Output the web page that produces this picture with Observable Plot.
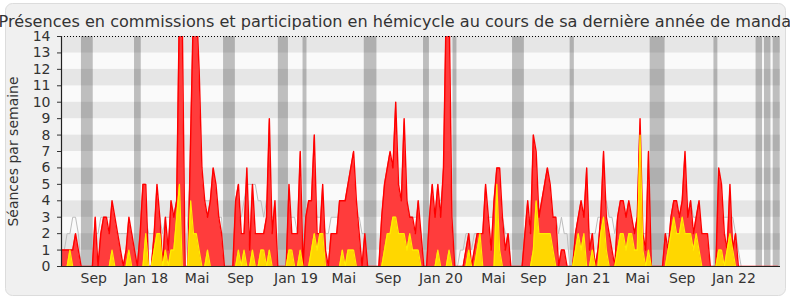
<!DOCTYPE html>
<html><head><meta charset="utf-8">
<script src="https://cdn.jsdelivr.net/npm/d3@7"></script>
<script src="https://cdn.jsdelivr.net/npm/@observablehq/plot@0.6"></script>
<style>
html,body{margin:0;padding:0;background:#fff;}
#chart svg{display:block;}
</style></head><body><div id="chart"></div>
<script>
const title = "Présences en commissions et participation en hémicycle au cours de sa dernière année de mandat";
const yLabel = "Séances par semaine";

// weekly values, week 0 = mid-June 2017
const hemicycle = [
1,1,1,1,1,2,1,0,0,0,
0,0,3,0,2,3,3,2,4,3,
2,1,0,1,3,2,1,0,2,5,
5,0,0,2,5,3,0,3,1,4,
3,4,16,15,0,0,8,16,16,12,
6,4,3,4,6,5,3,2,0,0,
0,0,4,5,2,2,6,1,5,2,
2,2,2,3,9,2,4,0,0,0,
0,5,2,2,2,7,0,3,4,4,
8,2,2,5,1,0,2,2,2,4,
4,4,5,6,7,4,2,0,2,0,
0,0,0,0,3,5,6,7,6,10,
5,4,9,4,3,3,2,4,2,0,
0,3,5,3,5,3,6,16,16,3,
0,0,0,0,1,2,0,1,2,2,
2,5,3,1,4,6,6,3,1,2,
0,0,0,0,0,2,4,2,8,7,
3,4,5,6,5,3,3,0,1,1,
0,0,0,2,3,4,3,6,1,2,
0,1,3,7,3,2,1,0,3,4,
4,3,4,3,2,3,9,2,1,7,
0,0,0,0,0,2,1,3,4,4,
3,4,7,3,4,2,3,4,2,2,
2,0,0,0,6,5,2,1,5,1,
2,0,0,0,0,0,0,0,0,0,
0,0,0,0,0,0
];
const commissions = [
0,0,0,1,0,0,0,0,0,0,
0,0,0,0,0,0,0,0,1,0,
0,0,0,0,1,0,0,0,0,0,
2,0,0,1,2,2,0,1,0,1,
1,3,5,0,0,0,4,2,2,1,
0,0,1,0,0,0,0,0,0,0,
0,0,0,1,0,1,0,0,1,0,
0,1,1,0,1,0,0,0,0,0,
0,1,1,0,0,1,0,0,0,1,
2,1,2,2,0,0,0,0,0,0,
1,0,1,1,1,0,0,0,0,0,
0,0,0,0,0,1,2,2,3,3,
2,2,2,1,2,1,1,1,0,0,
0,0,0,0,1,0,0,0,1,0,
0,0,0,0,0,1,0,0,1,2,
0,0,0,0,0,5,1,0,0,0,
0,0,0,0,0,0,0,0,1,4,
2,2,2,2,2,1,0,0,0,0,
0,0,0,1,2,1,2,0,0,1,
0,0,2,3,1,0,0,0,1,2,
2,1,2,2,1,1,8,1,0,1,
0,0,0,0,0,0,1,2,3,2,
2,3,2,2,2,1,2,1,0,0,
0,0,0,0,1,1,0,1,2,1,
0,0,0,0,0,0,0,0,0,0,
0,0,0,0,0,0
];
const medianAll = [
0,1,2,2,3,3,2,0,0,0,
0,0,2,2,3,3,3,3,3,2,
2,2,2,2,2,2,0,0,2,3,
3,2,2,2,3,3,2,3,3,3,
3,4,6,6,0,3,6,6,6,5,
5,4,4,4,5,4,3,3,0,0,
0,0,2,3,3,4,5,5,5,5,
4,4,3,4,4,3,3,0,0,0,
0,3,3,3,2,3,0,2,3,3,
4,3,3,3,2,2,3,3,3,3,
3,3,4,4,4,3,3,2,2,0,
0,0,0,0,2,3,3,4,4,5,
4,4,5,4,3,3,3,3,2,0,
0,3,3,3,4,4,5,6,6,3,
0,0,1,1,2,2,1,2,2,2,
2,3,3,3,3,4,3,3,2,2,
0,0,0,0,0,2,3,3,3,3,
3,3,3,3,3,3,3,2,3,2,
2,0,0,2,3,3,3,3,2,2,
2,3,3,3,4,3,3,2,3,3,
3,3,3,3,2,3,3,2,2,2,
0,0,0,0,0,2,2,2,3,3,
3,3,4,3,4,3,3,3,2,2,
1,0,0,0,3,3,3,3,3,3,
2,1,0,0,0,0,0,0,0,0,
0,0,0,0,0,0
];

// parliamentary holidays (in weeks)
const vacStart = [7.1, 26.0, 57.7, 77.2, 86.0, 107.8, 128.9, 139.4, 160.6, 181.1, 209.6, 232.3, 247.3, 250.3, 253.4];
const vacEnd   = [11.3, 28.4, 61.9, 80.8, 87.4, 112.3, 131.0, 140.8, 164.8, 182.6, 214.9, 233.7, 249.6, 252.6, 255.9];

const tickWeeks  = [11.5, 30.2, 48.3, 63.7, 83.5, 100.5, 116.3, 135.1, 153.8, 168.0, 187.6, 205.1, 221.0, 239.4];
const tickLabels = ["Sep","Jan 18","Mai","Sep","Jan 19","Mai","Sep","Jan 20","Mai","Sep","Jan 21","Mai","Sep","Jan 22"];
const yTicks = [0,1,2,3,4,5,6,7,8,9,10,11,12,13,14];

const data = hemicycle.map((v, i) => ({w: i, hem: v, com: commissions[i], med: medianAll[i]}));
const vac = vacStart.map((s, i) => ({x1: s, x2: vacEnd[i]}));
const bands = yTicks.slice(0, -1).map(v => ({y1: v, y2: v + 1, odd: v % 2 === 1}));
const labelMap = new Map(tickWeeks.map((t, i) => [t, tickLabels[i]]));

const chart = Plot.plot({
  width: 790, height: 300,
  marginLeft: 61, marginRight: 10, marginTop: 36, marginBottom: 34,
  style: {fontFamily: "DejaVu Sans", color: "#333", background: "#fff", overflow: "hidden"},
  x: {domain: [0, 256], axis: null},
  y: {domain: [0, 14], axis: null},
  marks: [
    Plot.frame({insetLeft: -56, insetTop: -33, insetRight: -5, insetBottom: -29, rx: 7, fill: "#f0f0f0", stroke: "#dcdcdc"}),
    Plot.rect(bands, {x1: 0, x2: 256, y1: "y1", y2: "y2", fill: d => d.odd ? "#e6e6e6" : "#fafafa"}),
    Plot.rect(vac, {x1: "x1", x2: "x2", y1: 0, y2: 14, fill: "#000", fillOpacity: 0.24}),
    Plot.lineY(data, {x: "w", y: "med", stroke: "#bdbdbd", strokeWidth: 1, clip: true}),
    Plot.areaY(data, {x: "w", y: "hem", fill: "#ff3c3c", clip: true}),
    Plot.lineY(data, {x: "w", y: "hem", stroke: "#ff0000", strokeWidth: 1.4, clip: true}),
    Plot.areaY(data, {x: "w", y: "com", fill: "#ffd700", clip: true}),
    Plot.lineY(data, {x: "w", y: "com", stroke: "#ffee00", strokeWidth: 1.2, clip: true}),
    Plot.ruleY([14], {stroke: "#000", strokeDasharray: "1,2", strokeWidth: 1}),
    Plot.ruleY([0], {stroke: "#222", strokeWidth: 1.2}),
    Plot.ruleX([0], {stroke: "#222", strokeWidth: 1.2}),
    Plot.axisY({ticks: yTicks, tickSize: 4, tickPadding: 7, fontSize: 14, label: null, stroke: "#333"}),
    Plot.axisX({ticks: tickWeeks, tickFormat: d => labelMap.get(d), tickSize: 0, tickPadding: 7, fontSize: 14, label: null}),
    Plot.text([yLabel], {frameAnchor: "left", rotate: -90, dx: -48, fontSize: 14, fill: "#333", textAnchor: "middle"}),
    Plot.text([title], {frameAnchor: "top", dy: -15, dx: -23, fontSize: 16.1, fill: "#333", lineAnchor: "middle", textAnchor: "middle"})
  ]
});
document.getElementById("chart").appendChild(chart);
</script></body></html>
